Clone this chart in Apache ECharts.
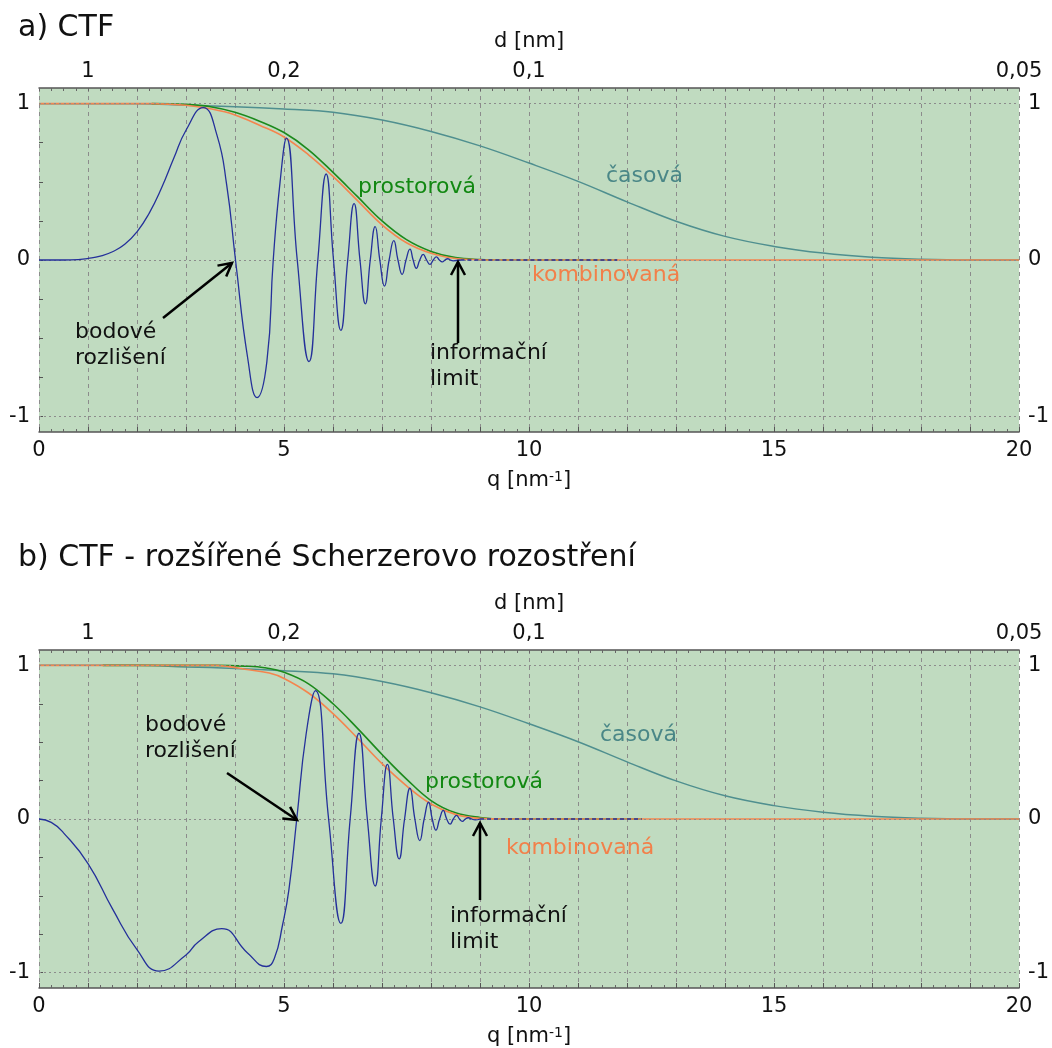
<!DOCTYPE html>
<html>
<head>
<meta charset="utf-8">
<script src="https://cdn.jsdelivr.net/npm/echarts@6.0.0/dist/echarts.min.js"></script>
<style>
html,body{margin:0;padding:0;background:#fff;}
#chart{width:1052px;height:1048px;}
</style>
</head>
<body>
<div id="chart"></div>
<script>
/*****  data  *****/
// top axis: d [nm] labels and where they sit on q
var dTickQ = [1, 5, 10, 20];
var dTickLabels = ['1', '0,2', '0,1', '0,05'];
var qLabelStep = 5;
var yLabelValues = [-1, 0, 1];
var yTickValues = [-1, -0.75, -0.5, -0.25, 0, 0.25, 0.5, 0.75, 1];

// časová (temporal envelope) - same in a) and b)
var casovaQ = [0, 2, 3, 4, 5, 6, 7, 8, 9, 10, 11, 12, 13, 14, 15, 16, 17, 18, 19, 20];
var casovaV = [1, 1, 0.99, 0.98, 0.965, 0.945, 0.895, 0.822, 0.73, 0.62, 0.503, 0.372, 0.248, 0.151, 0.087, 0.044, 0.018, 0.005, 0, 0];

// a) CTF
var prostAQ = [2.3, 3, 3.5, 4, 4.5, 5, 5.5, 6, 6.5, 7, 7.5, 8, 8.5, 9, 9.5, 11.8];
var prostAV = [1, 0.995, 0.98, 0.945, 0.888, 0.815, 0.705, 0.56, 0.405, 0.25, 0.13, 0.055, 0.015, 0.003, 0, 0];
var kombAQ = [0, 2.3, 3, 3.5, 4, 4.5, 5, 5.5, 6, 6.5, 7, 7.5, 8, 8.5, 9, 9.5, 20];
var kombAV = [1, 1, 0.99, 0.967, 0.928, 0.862, 0.787, 0.673, 0.535, 0.38, 0.225, 0.11, 0.043, 0.01, 0.002, 0, 0];
var ctfAQ = [0, 0.5, 0.8, 1, 1.25, 1.5, 1.75, 2, 2.25, 2.5, 2.75, 3, 3.35, 3.63, 3.83, 4.01, 4.26,
	4.45, 4.65, 4.78, 4.92, 5.05, 5.27, 5.51, 5.69, 5.86, 6.01, 6.16, 6.30, 6.43, 6.55, 6.66, 6.76, 6.86, 6.955, 7.05, 7.145,
	7.24, 7.325, 7.41, 7.49, 7.57, 7.635, 7.70, 7.77, 7.84, 7.91, 7.98, 8.045, 8.11, 8.17, 8.23, 8.285, 8.34, 8.395, 8.45, 8.6];
var ctfAV = [0, 0, 0.003, 0.01, 0.025, 0.053, 0.1, 0.18, 0.3, 0.46, 0.65, 0.83, 0.975, 0.8, 0.48, 0, -0.63,
	-0.88, -0.65, 0, 0.5, 0.78, 0, -0.65, 0, 0.55, 0, -0.45, 0, 0.36, 0, -0.28, 0, 0.214, 0, -0.167, 0,
	0.124, 0, -0.092, 0, 0.07, 0, -0.053, 0, 0.036, 0, -0.028, 0, 0.02, 0, -0.012, 0, 0.008, 0, -0.005, 0];
var ctfTailAQ = [8.6, 11.8];
var ctfTailAV = [0, 0];

// b) CTF - rozšířené Scherzerovo rozostření
var prostBQ = [1.3, 3.6, 4.2, 4.6, 5, 5.5, 6, 6.5, 7, 7.5, 8, 8.5, 9, 9.5, 12.3];
var prostBV = [1, 1, 0.995, 0.985, 0.955, 0.88, 0.75, 0.59, 0.42, 0.26, 0.12, 0.04, 0.01, 0, 0];
var kombBQ = [0, 3.6, 3.9, 4.2, 4.7, 5, 5.5, 6, 6.5, 7, 7.5, 8, 8.5, 9, 9.5, 20];
var kombBV = [1, 1, 0.99, 0.975, 0.95, 0.915, 0.82, 0.686, 0.526, 0.36, 0.216, 0.098, 0.03, 0.004, 0, 0];
var ctfBQ = [0, 0.25, 0.5, 1, 1.5, 2, 2.45, 3, 3.25, 3.73, 4.25, 4.64, 4.8, 4.97, 5.1, 5.26, 5.45, 5.64, 5.91, 6.16,
	6.35, 6.53, 6.70, 6.86, 6.985, 7.11, 7.23, 7.35, 7.46, 7.57, 7.67, 7.77, 7.86, 7.95, 8.025, 8.1, 8.175, 8.25, 8.32, 8.39,
	8.455, 8.52, 8.58, 8.64, 8.7, 8.76, 8.83, 8.9, 9.0];
var ctfBV = [0, -0.022, -0.09, -0.29, -0.585, -0.85, -0.99, -0.885, -0.8, -0.714, -0.87, -0.96, -0.91, -0.69, -0.46, 0, 0.55, 0.835, 0, -0.68,
	0, 0.558, 0, -0.436, 0, 0.355, 0, -0.26, 0, 0.2, 0, -0.141, 0, 0.109, 0, -0.073, 0, 0.056, 0, -0.034,
	0, 0.024, 0, -0.015, 0, 0.008, 0, -0.006, 0];
var ctfTailBQ = [9.0, 12.3];
var ctfTailBV = [0, 0];

/*****  chart  *****/
var font = '"DejaVu Sans", Verdana, sans-serif';
var cBlue = '#24309a', cGreen = '#1c8a1c', cTeal = '#4f8f8f', cOrange = '#f4854e';

function pairs(qs, vs) {
	return qs.map(function (q, i) { return [q, vs[i]]; });
}

function line(name, xi, qs, vs, color, width, z, smooth, dashed) {
	return {
		name: name,
		type: 'line',
		xAxisIndex: xi,
		yAxisIndex: xi,
		data: pairs(qs, vs),
		showSymbol: false,
		smooth: smooth,
		z: z,
		lineStyle: {color: color, width: width, type: dashed ? [4, 3] : 'solid'},
		silent: true
	};
}

function gridLines(xi) {
	return {
		type: 'line', xAxisIndex: xi, yAxisIndex: xi, data: [], z: 1, silent: true,
		markLine: {
			silent: true, symbol: 'none', label: {show: false},
			lineStyle: {color: '#8c8c8c', type: [2, 3], width: 1},
			data: yLabelValues.map(function (v) { return {yAxis: v}; })
		}
	};
}

function bottomAxis(g) {
	return {
		type: 'value', gridIndex: g, position: 'bottom', min: 0, max: 20, interval: 1,
		axisLine: {show: true, onZero: false, lineStyle: {color: '#555', width: 1.5}},
		axisTick: {show: true, inside: true, length: 5, lineStyle: {color: '#555'}},
		minorTick: {show: true, splitNumber: 4, length: 3, lineStyle: {color: '#666'}},
		axisLabel: {
			margin: 8, fontSize: 21, color: '#111', fontFamily: font,
			formatter: function (v) { return v % qLabelStep === 0 ? String(v) : ''; }
		},
		splitLine: {show: true, lineStyle: {color: '#8c8c8c', type: [4, 4], width: 1}},
		name: 'q [nm{sup|-1}]', nameLocation: 'middle', nameGap: 38,
		nameTextStyle: {
			fontSize: 21, color: '#111', fontFamily: font,
			rich: {sup: {fontSize: 14, fontFamily: font, color: '#111', verticalAlign: 'top'}}
		}
	};
}

function topAxis(g) {
	return {
		type: 'value', gridIndex: g, position: 'top', min: 0, max: 20, interval: 0.25,
		axisLine: {show: true, onZero: false, lineStyle: {color: '#555', width: 1.5}},
		axisTick: {show: true, inside: true, length: 3, lineStyle: {color: '#666'}},
		axisLabel: {
			customValues: dTickQ, margin: 6, fontSize: 21, color: '#111', fontFamily: font,
			formatter: function (v) { var i = dTickQ.indexOf(v); return i < 0 ? '' : dTickLabels[i]; }
		},
		splitLine: {show: false},
		name: 'd [nm]', nameLocation: 'middle', nameGap: 36,
		nameTextStyle: {fontSize: 21, color: '#111', fontFamily: font}
	};
}

function yAxis(g, pos) {
	return {
		type: 'value', gridIndex: g, position: pos, min: -1.1, max: 1.1,
		axisLine: {show: false, onZero: false},
		axisTick: {show: pos === 'left', inside: true, length: 4, customValues: yTickValues, lineStyle: {color: '#555'}},
		axisLabel: {customValues: yLabelValues, margin: 9, fontSize: 21, color: '#111', fontFamily: font},
		splitLine: {show: false}
	};
}

function text(str, x, y, color, size, va) {
	return {
		type: 'text', x: x, y: y, z: 100, silent: true,
		style: {text: str, fill: color, fontSize: size, fontFamily: font, lineHeight: 26, verticalAlign: va || 'middle'}
	};
}

function arrow(x1, y1, x2, y2) {
	var dx = x2 - x1, dy = y2 - y1, L = Math.sqrt(dx * dx + dy * dy);
	var ux = dx / L, uy = dy / L, h = 13, w = 7;
	return [
		{type: 'line', z: 100, silent: true, shape: {x1: x1, y1: y1, x2: x2, y2: y2}, style: {stroke: '#000', lineWidth: 2.5}},
		{type: 'polyline', z: 100, silent: true, shape: {points: [
			[x2 - h * ux + w * uy, y2 - h * uy - w * ux], [x2, y2], [x2 - h * ux - w * uy, y2 - h * uy + w * ux]
		]}, style: {stroke: '#000', lineWidth: 2.5, fill: null}}
	];
}

var chart = echarts.init(document.getElementById('chart'));

option = {
	animation: false,
	backgroundColor: '#fff',
	grid: [
		{left: 39, right: 31, top: 88, height: 344, show: true, backgroundColor: '#c0dbc0', borderWidth: 0},
		{left: 39, right: 31, top: 650, height: 343, show: true, backgroundColor: '#c0dbc0', borderWidth: 0}
	],
	xAxis: [bottomAxis(0), bottomAxis(1), topAxis(0), topAxis(1)],
	yAxis: [yAxis(0, 'left'), yAxis(1, 'left'), yAxis(0, 'right'), yAxis(1, 'right')],
	series: [
		gridLines(0),
		gridLines(1),
		line('časová', 0, casovaQ, casovaV, cTeal, 1.5, 2, 0.4),
		line('prostorová', 0, prostAQ, prostAV, cGreen, 1.6, 3, 0.4),
		line('kombinovaná', 0, kombAQ, kombAV, cOrange, 1.6, 4, 0.4),
		line('CTF', 0, ctfAQ, ctfAV, cBlue, 1.3, 5, 0.5),
		line('CTF', 0, ctfTailAQ, ctfTailAV, cBlue, 1.3, 5, false, true),
		line('časová', 1, casovaQ, casovaV, cTeal, 1.5, 2, 0.4),
		line('prostorová', 1, prostBQ, prostBV, cGreen, 1.6, 3, 0.4),
		line('kombinovaná', 1, kombBQ, kombBV, cOrange, 1.6, 4, 0.4),
		line('CTF', 1, ctfBQ, ctfBV, cBlue, 1.3, 5, 0.5),
		line('CTF', 1, ctfTailBQ, ctfTailBV, cBlue, 1.3, 5, false, true)
	],
	graphic: [
		text('a) CTF', 18, 28, '#111', 30),
		text('b) CTF - rozšířené Scherzerovo rozostření', 18, 558, '#111', 30),
		text('prostorová', 358, 187, '#128812', 22),
		text('časová', 606, 176, '#4a8787', 22),
		text('kombinovaná', 532, 275, '#f2804a', 22),
		text('bodové\nrozlišení', 75, 319, '#111', 22, 'top'),
		text('informační\nlimit', 430, 340, '#111', 22, 'top'),
		text('prostorová', 425, 782, '#128812', 22),
		text('časová', 600, 735, '#4a8787', 22),
		text('kombinovaná', 506, 848, '#f2804a', 22),
		text('bodové\nrozlišení', 145, 712, '#111', 22, 'top'),
		text('informační\nlimit', 450, 903, '#111', 22, 'top')
	].concat(arrow(163, 318, 232, 263), arrow(458, 343, 458, 262),
		arrow(227, 773, 297, 820), arrow(480, 900, 480, 823))
};

chart.setOption(option);
</script>
</body>
</html>
